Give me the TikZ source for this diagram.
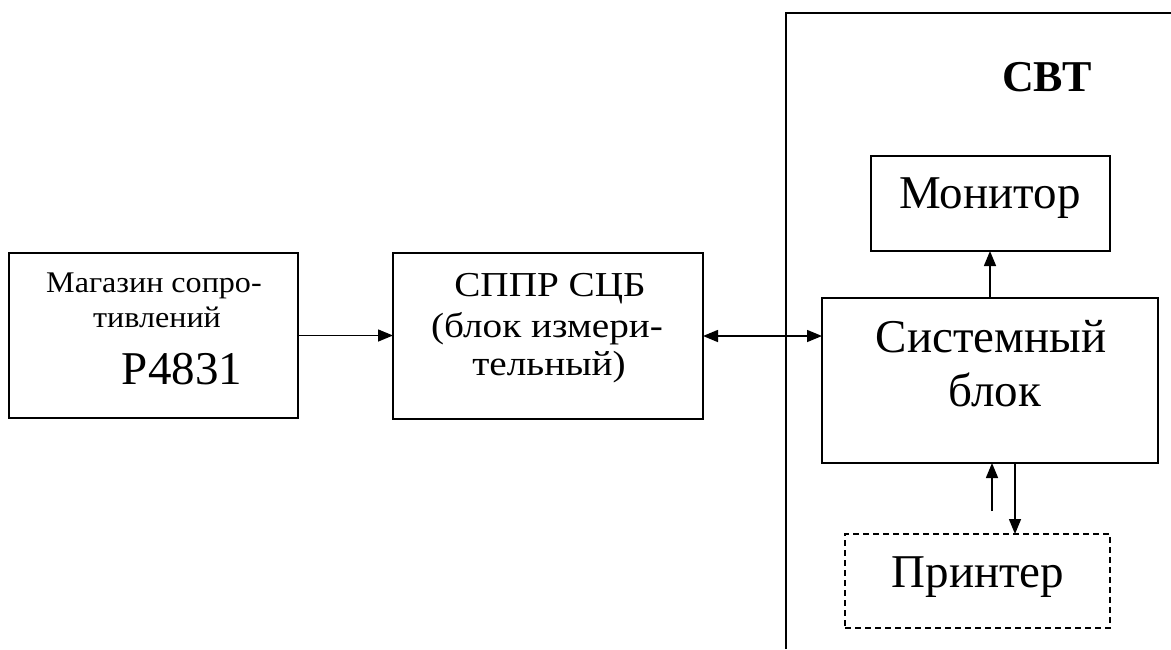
\documentclass[tikz,border=0pt]{standalone}
\usepackage{fontspec}
\setmainfont{Liberation Serif}
\newfontfamily\widefont[FakeStretch=1.12]{Liberation Serif}
\newfontfamily\magfont[FakeStretch=1.07]{Liberation Serif}
\usetikzlibrary{arrows.meta}
\begin{document}
\begin{tikzpicture}[x=1pt,y=-1pt,
  box/.style={draw, line width=1.5pt, inner sep=0pt, outer sep=0pt},
  dbox/.style={box, line width=1.3pt, dash pattern=on 6pt off 4pt},
  arr/.style={line width=1.5pt, -{Triangle[length=15pt,width=12pt]}},
  darr/.style={line width=1.5pt, {Triangle[length=15pt,width=12pt]}-{Triangle[length=15pt,width=12pt]}},
  lbl/.style={anchor=base, inner sep=0pt}]
\useasboundingbox (0,0) rectangle (1171,649);
% frame
\coordinate (fb) at (786,649);
\coordinate (ft) at (786,13);
\coordinate (fr) at (1171,13);
\draw[line width=1.5pt] (fb) -- (ft) -- (fr);
% boxes
\node[box, minimum width=289pt, minimum height=165pt] (mag) at (153.5,335.5) {};
\node[box, minimum width=310pt, minimum height=166pt] (sppr) at (548,336) {};
\node[box, minimum width=239pt, minimum height=95pt] (mon) at (990.5,203.5) {};
\node[box, minimum width=336pt, minimum height=165pt] (sys) at (990,380.5) {};
\node[dbox, minimum width=265pt, minimum height=94pt] (prn) at (977.5,581) {};
% texts
\node[lbl, font=\magfont\fontsize{30}{34}\selectfont] (t1) at (154,292) {Магазин сопро-};
\node[lbl, font=\magfont\fontsize{30}{34}\selectfont] (t2) at (157,327) {тивлений};
\node[lbl, font=\fontsize{47}{52}\selectfont] (t3) at (182,384) {P4831};
\node[lbl, font=\widefont\fontsize{35}{40}\selectfont] (s1) at (550,296) {СППР СЦБ};
\node[lbl, font=\widefont\fontsize{35}{40}\selectfont] (s2) at (547,337) {(блок измери-};
\node[lbl, font=\widefont\fontsize{35}{40}\selectfont] (s3) at (549,375) {тельный)};
\node[lbl, font=\fontsize{44}{48}\selectfont\bfseries] (svt) at (1047,91) {СВТ};
\node[lbl, font=\fontsize{47}{52}\selectfont] (m1) at (990,208) {Монитор};
\node[lbl, font=\fontsize{47}{52}\selectfont] (y1) at (991,352) {Системный};
\node[lbl, font=\fontsize{47}{52}\selectfont] (y2) at (995,406) {блок};
\node[lbl, font=\fontsize{47}{52}\selectfont] (p1) at (978,587) {Принтер};
% connectors
\draw[arr] (mag.east) -- (mag.east -| sppr.west);
\draw[darr] (sppr.east) -- (sppr.east -| sys.west);
\draw[arr] (sys.north) -- (sys.north |- mon.south);
\coordinate (up) at (992,511);
\draw[arr] (up) -- (up |- sys.south);
\draw[arr] ([xshift=25pt]sys.south) -- ([xshift=25pt]sys.south |- prn.north);
\end{tikzpicture}
\end{document}
